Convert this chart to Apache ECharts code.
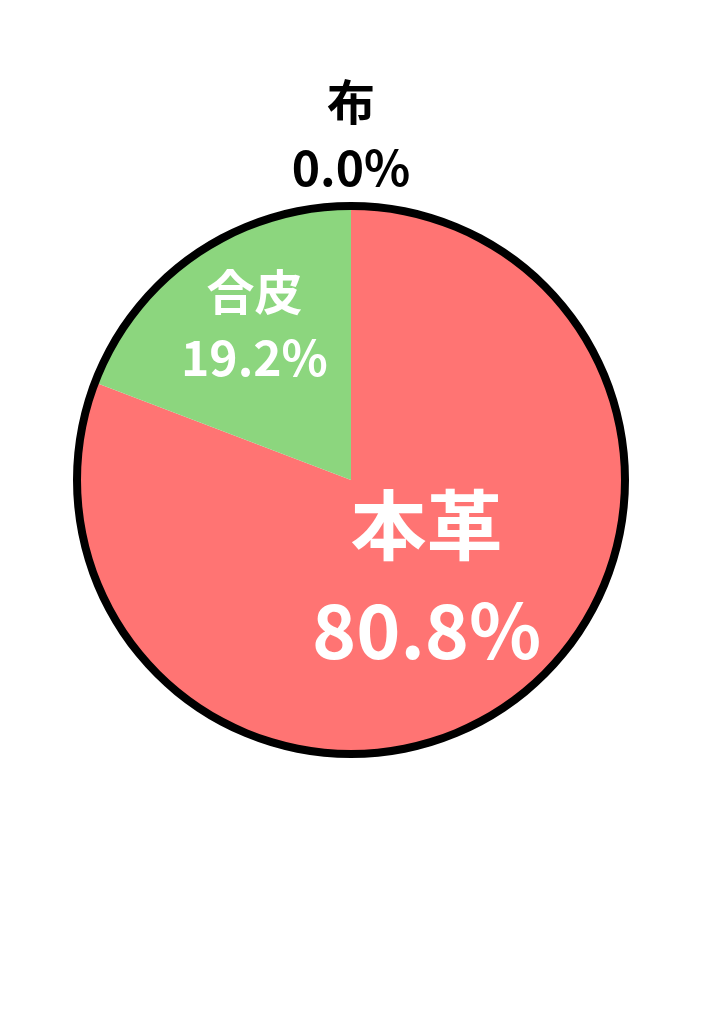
<!DOCTYPE html>
<html>
<head>
<meta charset="utf-8">
<script src="https://cdn.jsdelivr.net/npm/echarts@6.0.0/dist/echarts.min.js"></script>
<style>
	html, body { margin: 0; padding: 0; background: #fff; }
	#chart { width: 724px; height: 1024px; }
</style>
</head>
<body>
<div id="chart"></div>
<script>
// data
const materials = ['本革', '合皮', '布'];
const shares = [80.8, 19.2, 0];
const sliceColors = ['#FF7473', '#8CD67E', '#6FA8DC'];

//configurations
const
	FONT = '"Noto Sans CJK JP", "Noto Sans", sans-serif',
	CENTER = [351, 480],
	R = 271,
	BIG = { name: { fontSize: 76, lineHeight: 100 }, pct: { fontSize: 75, lineHeight: 110 } },
	SMALL = { name: { fontSize: 48, lineHeight: 64 }, pct: { fontSize: 48, lineHeight: 68 } },
	// per slice: size, colour, nudge from the default inside spot
	LABELS = [
		{ size: BIG, color: '#fff', offset: [-3, -14] },
		{ size: SMALL, color: '#fff', offset: [-18, -40] },
		{ size: SMALL, color: '#000', offset: [0, -206] }
	];

function richFor(size, color) {
	return {
		n: { fontFamily: FONT, fontWeight: 'bold', color, fontSize: size.name.fontSize, lineHeight: size.name.lineHeight },
		p: { fontFamily: FONT, fontWeight: 'bold', color, fontSize: size.pct.fontSize, lineHeight: size.pct.lineHeight }
	};
}

var chart = echarts.init(document.getElementById('chart'), null, { renderer: 'canvas' });

var pieData = materials.map((name, i) => ({
	name,
	value: shares[i],
	itemStyle: { color: sliceColors[i] },
	label: {
		offset: LABELS[i].offset,
		rich: richFor(LABELS[i].size, LABELS[i].color)
	}
}));

chart.setOption({
	backgroundColor: '#fff',
	animation: false,
	series: [
		{
			type: 'pie',
			center: CENTER,
			radius: [0, R],
			startAngle: 90,
			clockwise: true,
			silent: true,
			avoidLabelOverlap: false,
			label: {
				show: true,
				position: 'inside',
				align: 'center',
				formatter: p => '{n|' + p.name + '}\n{p|' + p.percent.toFixed(1) + '%}'
			},
			labelLine: { show: false },
			data: pieData
		},
		{
			// outer black rim
			type: 'pie',
			center: CENTER,
			radius: [R - 1, R + 7],
			silent: true,
			label: { show: false },
			labelLine: { show: false },
			itemStyle: { color: '#000' },
			data: [{ name: 'rim', value: 1 }]
		}
	]
});
</script>
</body>
</html>
